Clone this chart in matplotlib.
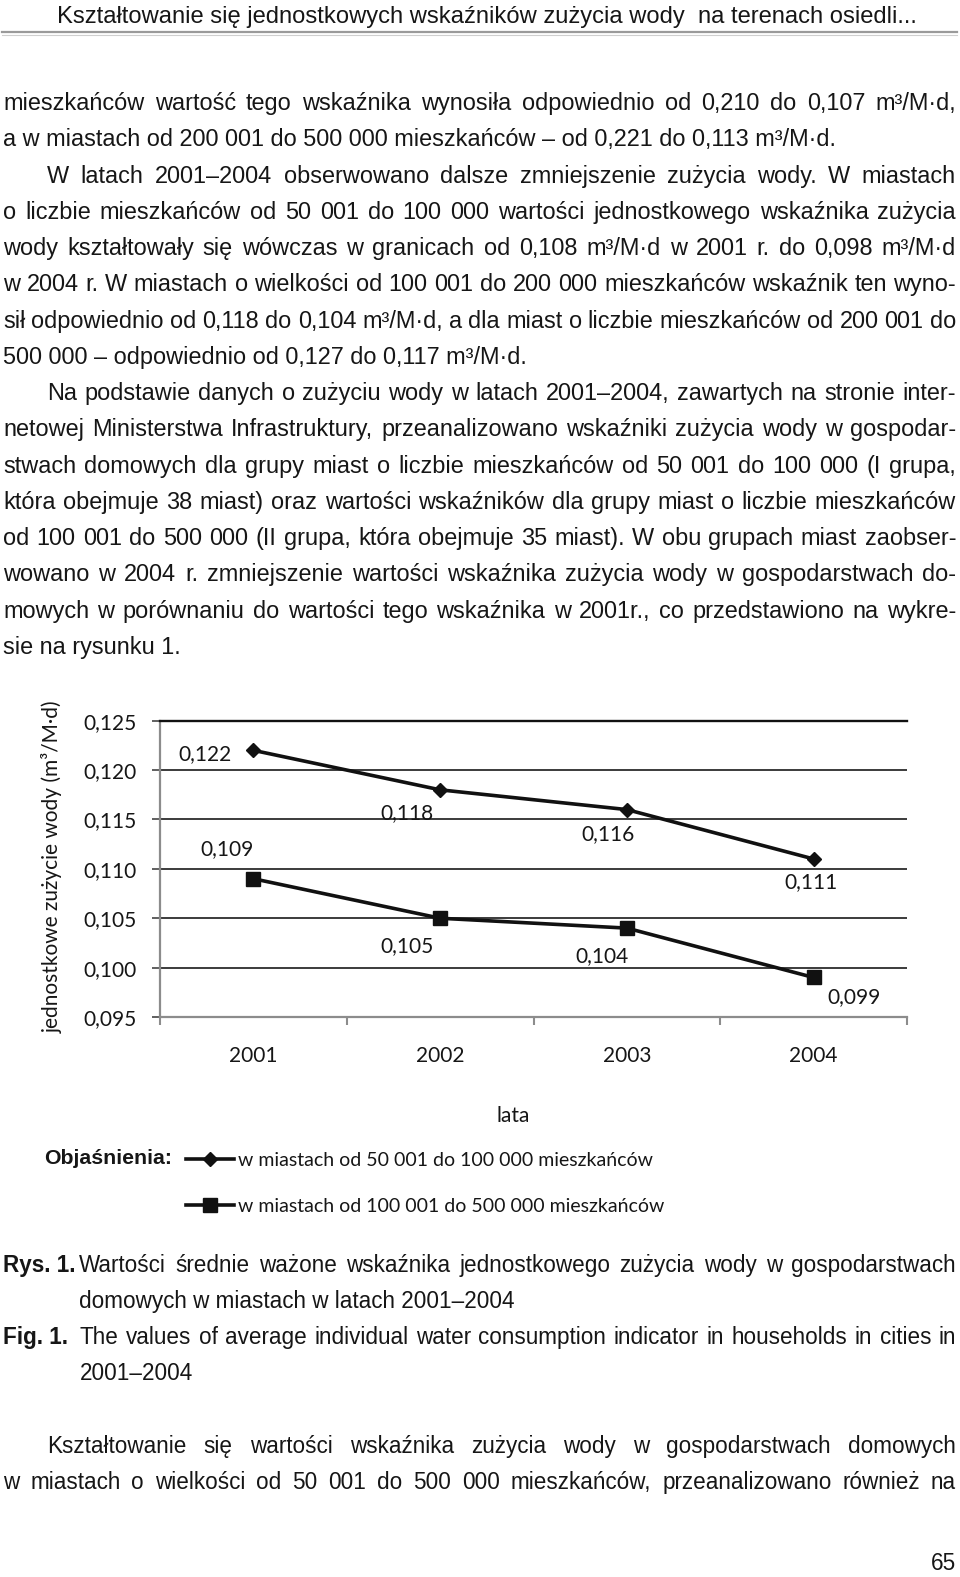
import matplotlib
matplotlib.use('Agg')
import matplotlib.pyplot as plt
from matplotlib.lines import Line2D
from matplotlib.ticker import FuncFormatter, FixedLocator
from matplotlib import font_manager as fm
import numpy as np

# ---------------- data ----------------
years = ['2001', '2002', '2003', '2004']
cities_50k_100k = [0.122, 0.118, 0.116, 0.111]
cities_100k_500k = [0.109, 0.105, 0.104, 0.099]
y_ticks = [0.095, 0.100, 0.105, 0.110, 0.115, 0.120, 0.125]
series_names = ['w miastach od 50 001 do 100 000 mieszkańców',
                'w miastach od 100 001 do 500 000 mieszkańców']
y_title = 'jednostkowe zużycie wody (m³/M·d)'
x_title = 'lata'

header = 'Kształtowanie się jednostkowych wskaźników zużycia wody  na terenach osiedli...'
body_lines = [
    ('mieszkańców wartość tego wskaźnika wynosiła odpowiednio od 0,210 do 0,107 m³/M·d,', 0, True),
    ('a w miastach od 200 001 do 500 000 mieszkańców – od 0,221 do 0,113 m³/M·d.', 0, False),
    ('W latach 2001–2004 obserwowano dalsze zmniejszenie zużycia wody. W miastach', 1, True),
    ('o liczbie mieszkańców od 50 001 do 100 000 wartości jednostkowego wskaźnika zużycia', 0, True),
    ('wody kształtowały się wówczas w granicach od 0,108 m³/M·d w 2001 r. do 0,098 m³/M·d', 0, True),
    ('w 2004 r. W miastach o wielkości od 100 001 do 200 000 mieszkańców wskaźnik ten wyno-', 0, True),
    ('sił odpowiednio od 0,118 do 0,104 m³/M·d, a dla miast o liczbie mieszkańców od 200 001 do', 0, True),
    ('500 000 – odpowiednio od 0,127 do 0,117 m³/M·d.', 0, False),
    ('Na podstawie danych o zużyciu wody w latach 2001–2004, zawartych na stronie inter-', 1, True),
    ('netowej Ministerstwa Infrastruktury, przeanalizowano wskaźniki zużycia wody w gospodar-', 0, True),
    ('stwach domowych dla grupy miast o liczbie mieszkańców od 50 001 do 100 000 (I grupa,', 0, True),
    ('która obejmuje 38 miast) oraz wartości wskaźników dla grupy miast o liczbie mieszkańców', 0, True),
    ('od 100 001 do 500 000 (II grupa, która obejmuje 35 miast). W obu grupach miast zaobser-', 0, True),
    ('wowano w 2004 r. zmniejszenie wartości wskaźnika zużycia wody w gospodarstwach do-', 0, True),
    ('mowych w porównaniu do wartości tego wskaźnika w 2001r., co przedstawiono na wykre-', 0, True),
    ('sie na rysunku 1.', 0, False),
]
caption_lines = [
    ('Rys. 1.', 'Wartości średnie ważone wskaźnika jednostkowego zużycia wody w gospodarstwach', True),
    ('', 'domowych w miastach w latach 2001–2004', False),
    ('Fig. 1.', 'The values of average individual water consumption indicator in households in cities in', True),
    ('', '2001–2004', False),
]
final_lines = [
    ('Kształtowanie się wartości wskaźnika zużycia wody w gospodarstwach domowych', 1, True),
    ('w miastach o wielkości od 50 001 do 500 000 mieszkańców, przeanalizowano również na', 0, True),
]
page_number = '65'
legend_title = 'Objaśnienia:'

# label offsets (pixels) for value labels
off_a = [(-48, -4), (-33, -23), (-19, -25), (-3, -23)]
off_b = [(-26, 30), (-33, -28), (-25, -28), (40, -20)]

# ---------------- figure ----------------
W, H = 960, 1577
fig = plt.figure(figsize=(W / 100, H / 100), dpi=100)
fig.patch.set_facecolor('white')
renderer = fig.canvas.get_renderer()

available = {f.name for f in fm.fontManager.ttflist}
BODY = ['Liberation Sans', 'DejaVu Sans']
if 'Liberation Sans Narrow' in available:
    NARROW = ['Liberation Sans Narrow', 'Liberation Sans', 'DejaVu Sans']
else:
    NARROW = ['Liberation Sans', 'DejaVu Sans']
CHART = ['Lato', 'DejaVu Sans']
plt.rcParams['font.family'] = CHART
INK = '#161616'


def fx(x):
    return x / W


def fy(y):
    return 1 - y / H


def measure(s, fs, family, weight='normal'):
    t = fig.text(0, 0, s, fontsize=fs, family=family, weight=weight)
    w = t.get_window_extent(renderer).width
    t.remove()
    return w


def fit(s, target, family, weight='normal'):
    return 20 * target / measure(s, 20, family, weight)


def base(y, fs):
    # visual line centre -> baseline (pixels)
    return y + 0.36 * fs * 100 / 72


def place_line(s, y, x0, x1, fs, family, justify=True, weight='normal'):
    yb = base(y, fs)
    if not justify:
        fig.text(fx(x0), fy(yb), s, fontsize=fs, family=family, weight=weight,
                 color=INK, ha='left', va='baseline')
        return
    words = s.split(' ')
    objs = [fig.text(0, 0, w, fontsize=fs, family=family, weight=weight,
                     color=INK, ha='left', va='baseline') for w in words]
    widths = [o.get_window_extent(renderer).width for o in objs]
    gap = (x1 - x0 - sum(widths)) / max(len(words) - 1, 1)
    x = x0
    for o, w in zip(objs, widths):
        o.set_position((fx(x), fy(yb)))
        x += w + gap


# header
hfs = fit(header, 857.5, NARROW)
fig.text(fx(57.3), fy(base(14.5, hfs)), header, fontsize=hfs, family=NARROW, color=INK,
         ha='left', va='baseline')
fig.add_artist(Line2D([fx(2), fx(957)], [fy(32), fy(32)], color='#9a9a9a', lw=1.6))
fig.add_artist(Line2D([fx(2), fx(957)], [fy(34.5), fy(34.5)], color='#cfcfcf', lw=0.8))

# body text
bfs = fit(body_lines[1][0], 833, BODY)
for i, (s, indent, just) in enumerate(body_lines):
    y = 101.6 + 36.25 * i
    x0 = 47 if indent else 3
    place_line(s, y, x0, 956, bfs, BODY, just)

# caption
cfs = fit(caption_lines[1][1], 434.3, NARROW)
for i, (pre, s, just) in enumerate(caption_lines):
    y = 1263.5 + 36.2 * i
    if pre:
        fig.text(fx(3), fy(base(y, cfs)), pre, fontsize=cfs, family=NARROW, weight='bold',
                 color=INK, ha='left', va='baseline')
    place_line(s, y, 79.4, 956, cfs, NARROW, just)

for i, (s, indent, just) in enumerate(final_lines):
    y = 1444.5 + 36.2 * i
    place_line(s, y, 47 if indent else 3, 956, cfs, NARROW, just)

fig.text(fx(956), fy(base(1562, cfs)), page_number, fontsize=cfs, family=NARROW, color=INK,
         ha='right', va='baseline')

# ---------------- chart ----------------
ax = fig.add_axes([fx(160), fy(1017), 747 / W, 296.3 / H])
x = np.arange(len(years))
la, = ax.plot(x, cities_50k_100k, color='#111111', lw=2.6, marker='D', ms=7.5,
              label=series_names[0], zorder=3)
lb, = ax.plot(x, cities_100k_500k, color='#111111', lw=2.6, marker='s', ms=10.5,
              label=series_names[1], zorder=3)
ax.set_xlim(-0.5, len(years) - 0.5)
ax.set_ylim(y_ticks[0], y_ticks[-1])
ax.set_yticks(y_ticks)
ax.yaxis.set_major_formatter(FuncFormatter(lambda v, p: f'{v:.3f}'.replace('.', ',')))
ax.set_xticks(x)
ax.set_xticklabels(years)
ax.xaxis.set_minor_locator(FixedLocator(np.arange(-0.5, len(years), 1.0)))
ax.set_axisbelow(True)
ax.grid(axis='y', color='#1a1a1a', lw=1.2)
ax.grid(axis='x', visible=False)
ax.spines['right'].set_visible(False)
ax.spines['top'].set_color('#111111')
ax.spines['top'].set_linewidth(1.7)
for side in ['left', 'bottom']:
    ax.spines[side].set_color('#8c8c8c')
    ax.spines[side].set_linewidth(1.6)
ax.tick_params(axis='y', which='major', length=5.8, width=1.2, color='#444444',
               pad=10.8, labelsize=15, labelcolor=INK)
ax.tick_params(axis='x', which='major', length=0, pad=21, labelsize=15, labelcolor=INK)
ax.tick_params(axis='x', which='minor', length=5.8, width=1.5, color='#8c8c8c')

fmt = lambda v: f'{v:.3f}'.replace('.', ',')
for xi, v, (dx, dy) in zip(x, cities_50k_100k, off_a):
    ax.annotate(fmt(v), (xi, v), xytext=(dx, dy), textcoords='offset pixels',
                ha='center', va='center', fontsize=15, color=INK)
for xi, v, (dx, dy) in zip(x, cities_100k_500k, off_b):
    ax.annotate(fmt(v), (xi, v), xytext=(dx, dy), textcoords='offset pixels',
                ha='center', va='center', fontsize=15, color=INK)

ax.set_ylabel(y_title, fontsize=15, color=INK)
ax.yaxis.set_label_coords((52 - 160) / 747, (1017 - 867) / 296.3)
ax.yaxis.label.set_va('center')

fig.text(fx(513), fy(1116), x_title, ha='center', va='center', fontsize=15, color=INK)

ofs = fit(legend_title, 127, NARROW, 'bold')
fig.text(fx(44), fy(1158.5), legend_title, fontsize=ofs, family=NARROW, weight='bold',
         color=INK, ha='left', va='center')
fig.legend(handles=[la, lb], labels=series_names, loc='upper left',
           bbox_to_anchor=(fx(186), fy(1152)), frameon=False, borderpad=0,
           borderaxespad=0, handlelength=2.45, handletextpad=0.25,
           labelspacing=1.47, fontsize=14, labelcolor=INK)

fig.savefig('out.png', dpi=100, facecolor='white')
